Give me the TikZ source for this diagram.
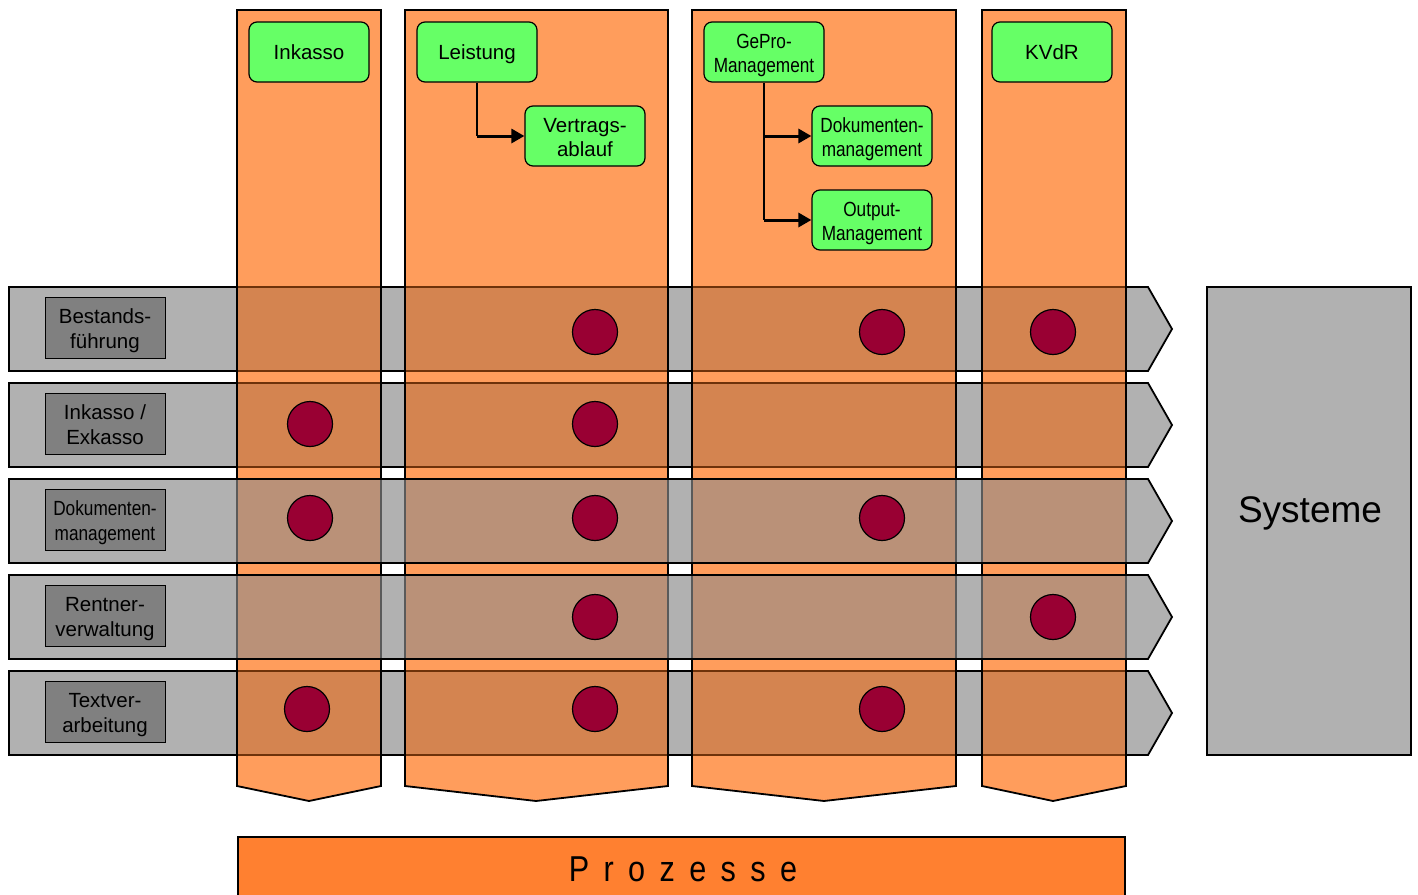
\documentclass[tikz,border=0pt]{standalone}
\usepackage{fontspec}
\setmainfont{Liberation Sans}
\newfontfamily\narrowfont[FakeStretch=0.84]{Liberation Sans}
\newfontfamily\prozfont[FakeStretch=0.85,LetterSpace=40]{Liberation Sans}
\usetikzlibrary{arrows.meta}
\definecolor{colfill}{RGB}{255,157,92}
\definecolor{rowfill}{RGB}{177,177,177}
\definecolor{ovA}{RGB}{212,132,80}
\definecolor{ovB}{RGB}{186,145,120}
\definecolor{brownline}{RGB}{110,50,10}
\definecolor{grayline}{RGB}{90,90,90}
\definecolor{grn}{RGB}{102,255,102}
\definecolor{dotred}{RGB}{153,0,51}
\definecolor{lblfill}{RGB}{128,128,128}
\definecolor{prozfill}{RGB}{255,128,48}
\begin{document}
\begin{tikzpicture}[x=1pt,y=-1pt,
  colshape/.style={draw=black,line width=1.8pt,fill=colfill},
  rowshape/.style={draw=black,line width=1.8pt,fill=rowfill},
  green/.style={draw=black,line width=1.2pt,fill=grn,rounded corners=8pt,minimum width=120pt,minimum height=60pt,inner sep=0pt,align=center},
  gtext/.style={font=\fontsize{20.5}{24.5}\selectfont},
  ntext/.style={font=\narrowfont\fontsize{20.5}{24.5}\selectfont},
  oneline/.style={text height=14pt,text depth=0pt},
  twoline/.style={text height=41pt,text depth=0pt},
  lbl/.style={draw=black,line width=1pt,fill=lblfill,minimum width=120pt,minimum height=61pt,inner sep=0pt,align=center},
  dot/.style={circle,draw=black,line width=1.2pt,fill=dotred,minimum size=45pt,inner sep=0pt},
  conn/.style={line width=1.4pt},
  arr/.style={line width=3pt,-{Triangle[length=13pt,width=14pt]}},
  ovline/.style={line width=1.8pt}
]
\useasboundingbox (0,0) rectangle (1418,894);
\fill[white] (0,0) rectangle (1418,894);

% columns (processes)
\foreach \l/\r/\c in {237/381/309, 405/668/536, 692/956/824, 982/1126/1053}{
  \draw[colshape] (\l,10) -- (\r,10) -- (\r,786) -- (\c,801) -- (\l,786) -- cycle;
}

% rows (systems)
\foreach \t in {287,383,479,575,671}{
  \draw[rowshape] (9,\t) -- (1148,\t) -- (1172,{\t+42}) -- (1148,{\t+84}) -- (9,{\t+84}) -- cycle;
}

% overlaps: columns above rows 1,2,5
\foreach \t in {287,383,671}{
  \foreach \l/\r in {237/381,405/668,692/956,982/1126}{
    \fill[ovA] (\l,\t) rectangle (\r,{\t+84});
    \draw[brownline,ovline] (\l,\t) -- (\r,\t) (\l,{\t+84}) -- (\r,{\t+84});
    \draw[black,ovline] (\l,{\t-0.9}) -- (\l,{\t+84.9}) (\r,{\t-0.9}) -- (\r,{\t+84.9});
  }
}
% overlaps: rows 3,4 above columns
\foreach \t in {479,575}{
  \foreach \l/\r in {237/381,405/668,692/956,982/1126}{
    \fill[ovB] (\l,\t) rectangle (\r,{\t+84});
    \draw[grayline,ovline] (\l,\t) -- (\l,{\t+84}) (\r,\t) -- (\r,{\t+84});
    \draw[black,ovline] ({\l-0.9},\t) -- ({\r+0.9},\t) ({\l-0.9},{\t+84}) -- ({\r+0.9},{\t+84});
  }
}

% process boxes
\node[green,gtext,oneline] (ink) at (309,52) {Inkasso};
\node[green,gtext,oneline] (lei) at (477,52) {Leistung};
\node[green,gtext,twoline] (ver) at (585,136) {Vertrags-\\ablauf};
\node[green,ntext,twoline] (gep) at (764,52) {GePro-\\Management};
\node[green,ntext,twoline] (dok) at (872,136) {Dokumenten-\\management};
\node[green,ntext,twoline] (out) at (872,220) {Output-\\Management};
\node[green,gtext,oneline] (kvd) at (1052,52) {KVdR};

% connectors
\draw[conn] (lei.south) -- (lei.south |- ver.west);
\draw[arr] (lei.south |- ver.west) -- (ver.west);
\draw[conn] (gep.south) -- (gep.south |- out.west);
\draw[arr] (gep.south |- dok.west) -- (dok.west);
\draw[arr] (gep.south |- out.west) -- (out.west);

% row labels
\node[lbl,gtext,twoline] (r1) at (105,327.5) {Bestands-\\führung};
\node[lbl,gtext,twoline] (r2) at (105,423.5) {Inkasso /\\Exkasso};
\node[lbl,ntext,twoline] (r3) at (105,519.5) {Dokumenten-\\management};
\node[lbl,gtext,twoline] (r4) at (105,615.5) {Rentner-\\verwaltung};
\node[lbl,gtext,twoline] (r5) at (105,711.5) {Textver-\\arbeitung};

% dots
\node[dot] (d12) at (595,332) {};
\node[dot] (d13) at (882,332) {};
\node[dot] (d14) at (1053,332) {};
\node[dot] (d21) at (310,424) {};
\node[dot] (d22) at (595,424) {};
\node[dot] (d31) at (310,518) {};
\node[dot] (d32) at (595,518) {};
\node[dot] (d33) at (882,518) {};
\node[dot] (d42) at (595,617) {};
\node[dot] (d44) at (1053,617) {};
\node[dot] (d51) at (307,709) {};
\node[dot] (d52) at (595,709) {};
\node[dot] (d53) at (882,709) {};

% Systeme
\node[draw=black,line width=1.8pt,fill=rowfill,minimum width=204pt,minimum height=468pt,inner sep=0pt] (sys) at (1309,521) {};
\node[font=\fontsize{37}{37}\selectfont,anchor=base,inner sep=0pt] (systxt) at (1310,522) {Systeme};

% Prozesse
\node[draw=black,line width=1.5pt,fill=prozfill,minimum width=887pt,minimum height=70pt,inner sep=0pt,anchor=north west] (proz) at (237,836) {};
\node[font=\prozfont\fontsize{36}{36}\selectfont,anchor=base,inner sep=0pt] (proztxt) at (683,881) {Prozesse};
\end{tikzpicture}
\end{document}
